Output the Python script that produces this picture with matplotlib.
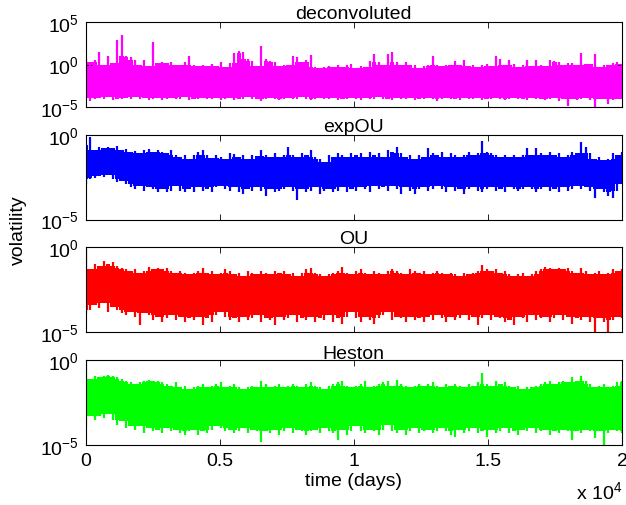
import numpy as np
import matplotlib
matplotlib.use("Agg")
import matplotlib.pyplot as plt

plt.rcParams['font.family'] = ['Liberation Sans', 'DejaVu Sans']
plt.rcParams['mathtext.fontset'] = 'custom'
plt.rcParams['mathtext.rm'] = 'Liberation Sans'
plt.rcParams['mathtext.it'] = 'Liberation Sans'
plt.rcParams['font.size'] = 14

# time span of the simulated series (days)
t_end = 20000

# log10 of the upper / lower envelope of each volatility path, 120 samples across time
decon_hi = [0.7, 0.3, 0.5, 1.5, 0.0, 1.05, 0.2, 2.9, 3.5, 1.0,
            0.9, 0.5, -0.1, 0.5, -0.2, 2.7, 0.2, 0.3, 0.2, 0.3,
            0.0, -0.1, 0.3, 1.05, -0.1, -0.2, -0.1, -0.2, 0.1, -0.2,
            0.3, -0.3, 0.2, 1.4, 1.6, 1.5, 0.7, 0.4, -0.2, 2.2,
            0.7, 0.4, 0.3, -0.2, 0.0, -0.1, 1.05, 0.9, 0.3, 0.5,
            1.1, -0.3, -0.4, -0.3, -0.2, -0.3, -0.1, -0.3, 0.0, 0.1,
            -0.4, -0.2, -0.3, 0.4, 1.2, 0.3, -0.1, 1.3, 1.5, 0.3,
            0.0, 0.3, -0.1, 0.0, -0.4, -0.2, -0.1, 1.05, -0.1, -0.2,
            -0.1, 0.0, 0.4, -0.1, 0.5, -0.2, -0.1, -0.3, 0.0, 0.1,
            -0.2, 1.05, 0.7, -0.1, 0.5, 0.1, -0.3, -0.1, 0.5, -0.2,
            0.5, 0.0, -0.2, 0.5, 0.4, 0.3, -0.1, 0.2, 0.2, -0.1,
            1.4, 0.1, 0.1, 1.2, -0.3, -0.1, 0.0, 0.2, 0.3, 0.1]
decon_lo = [-3.9, -4.3, -4.1, -3.9, -4.0, -3.8, -4.2, -4.0, -4.1, -3.9,
            -4.0, -3.8, -4.1, -3.9, -4.2, -4.0, -3.9, -4.2, -4.1, -3.9,
            -4.0, -4.1, -3.8, -4.2, -4.0, -4.1, -3.9, -4.0, -4.1, -3.9,
            -4.2, -4.0, -3.9, -4.2, -4.1, -4.0, -3.8, -4.1, -4.0, -4.3,
            -4.1, -3.9, -4.0, -4.2, -4.0, -3.9, -4.1, -4.0, -3.8, -4.0,
            -4.2, -4.1, -3.9, -4.0, -4.1, -3.9, -4.2, -4.0, -4.1, -3.9,
            -4.0, -4.2, -3.9, -4.1, -4.0, -3.8, -4.1, -4.0, -4.2, -3.9,
            -4.1, -4.0, -3.9, -4.2, -4.0, -4.1, -3.9, -4.0, -4.3, -4.0,
            -3.9, -4.1, -4.0, -4.2, -3.9, -4.0, -4.1, -3.9, -4.2, -4.0,
            -4.1, -3.9, -4.0, -4.2, -4.1, -3.9, -4.0, -4.1, -4.2, -3.9,
            -4.0, -4.1, -4.2, -4.0, -3.9, -4.3, -4.1, -4.9, -4.0, -4.2,
            -4.1, -3.9, -4.2, -5.0, -4.1, -4.0, -4.6, -4.2, -4.0, -4.1]

expou_hi = [-0.6, -0.15, -0.9, -0.7, -0.75, -0.7, -0.8, -0.65, -0.9, -0.85,
            -1.0, -0.95, -1.1, -0.9, -0.85, -1.0, -0.9, -1.0, -1.1, -0.9,
            -1.2, -1.3, -1.2, -1.4, -1.2, -1.0, -0.9, -1.2, -1.35, -1.2,
            -1.3, -1.4, -1.1, -1.15, -1.3, -1.2, -1.4, -1.2, -1.25, -0.9,
            -1.2, -1.3, -1.1, -1.3, -1.2, -0.72, -1.2, -1.3, -1.1, -1.2,
            -0.9, -1.3, -1.4, -1.6, -1.2, -1.3, -1.1, -1.2, -1.3, -1.1,
            -1.2, -1.1, -1.3, -1.0, -1.2, -1.1, -1.3, -0.9, -1.0, -0.72,
            -1.1, -1.3, -1.2, -1.4, -1.2, -1.3, -0.8, -1.1, -1.2, -1.0,
            -1.3, -1.1, -1.2, -1.3, -1.2, -1.0, -1.2, -1.1, -0.36, -1.0,
            -1.1, -1.2, -1.3, -1.2, -1.3, -1.2, -1.3, -1.2, -0.8, -1.2,
            -0.75, -1.1, -1.2, -1.0, -1.2, -1.1, -1.3, -1.2, -1.0, -1.1,
            -0.42, -0.7, -1.1, -1.4, -1.3, -1.5, -1.4, -1.1, -1.2, -1.0]
expou_lo = [-2.9, -2.6, -2.55, -2.45, -2.5, -2.4, -2.6, -2.8, -2.7, -2.9,
            -3.1, -3.2, -3.0, -3.3, -3.1, -3.2, -3.4, -3.2, -3.4, -3.3,
            -3.0, -3.3, -3.4, -3.2, -3.4, -3.1, -3.3, -3.2, -3.4, -3.1,
            -3.0, -3.2, -3.3, -3.1, -3.4, -3.5, -3.2, -3.3, -3.1, -3.3,
            -3.6, -3.2, -3.4, -3.3, -3.2, -3.1, -3.3, -3.85, -3.2, -3.4,
            -3.3, -3.1, -3.5, -3.3, -3.2, -3.4, -3.3, -3.1, -3.4, -3.2,
            -3.3, -3.1, -3.2, -3.4, -3.0, -3.2, -3.1, -3.3, -3.0, -3.2,
            -3.5, -3.1, -3.3, -3.5, -3.2, -3.1, -3.3, -3.2, -3.0, -3.2,
            -3.4, -3.1, -3.3, -3.2, -3.5, -3.2, -3.1, -3.3, -3.4, -3.2,
            -3.1, -3.3, -3.2, -3.4, -3.1, -3.2, -3.3, -3.2, -3.1, -3.2,
            -3.4, -3.2, -3.1, -3.3, -3.2, -3.4, -3.1, -3.3, -3.2, -3.0,
            -3.2, -3.1, -3.3, -3.75, -3.2, -3.4, -3.6, -3.75, -3.3, -2.9]

ou_hi = [-0.1, -1.3, -1.0, -1.1, -0.8, -1.0, -0.85, -1.1, -1.2, -1.3,
         -1.4, -1.3, -1.5, -1.4, -1.15, -1.3, -1.2, -1.3, -1.2, -1.4,
         -1.5, -1.4, -1.5, -1.6, -1.5, -1.4, -1.2, -1.5, -1.4, -1.6,
         -1.5, -1.3, -1.4, -1.6, -1.5, -1.7, -1.4, -1.5, -1.6, -1.4,
         -1.5, -1.6, -1.4, -1.5, -1.4, -1.6, -1.5, -1.7, -1.5, -1.3,
         -1.2, -1.5, -1.6, -1.7, -1.6, -1.5, -1.4, -1.15, -1.5, -1.6,
         -1.4, -1.3, -1.5, -1.6, -1.4, -1.5, -1.6, -1.4, -1.3, -1.4,
         -1.5, -1.6, -1.3, -1.4, -1.5, -1.4, -1.6, -1.5, -1.4, -1.5,
         -1.6, -1.5, -1.6, -1.7, -1.5, -1.6, -1.5, -1.4, -1.05, -1.3,
         -1.4, -1.3, -1.5, -1.4, -1.6, -1.7, -1.6, -1.5, -1.7, -1.6,
         -1.4, -1.3, -1.15, -1.2, -1.3, -1.2, -1.3, -1.2, -1.4, -1.5,
         -1.2, -1.4, -1.6, -1.5, -1.4, -1.6, -1.5, -1.3, -1.4, -1.3]
ou_lo = [-3.9, -3.7, -3.4, -3.6, -3.3, -3.8, -3.5, -3.7, -3.9, -4.0,
         -3.8, -4.1, -4.6, -3.9, -4.0, -4.3, -4.1, -4.4, -4.2, -4.0,
         -4.3, -4.1, -4.4, -4.2, -4.3, -4.1, -4.6, -4.2, -4.4, -4.0,
         -3.8, -4.1, -4.3, -4.2, -4.4, -4.1, -4.3, -4.2, -4.0, -4.4,
         -4.2, -4.3, -4.6, -4.1, -4.3, -4.2, -4.0, -4.4, -4.2, -4.3,
         -4.1, -4.4, -4.2, -4.3, -4.0, -4.4, -4.2, -4.5, -4.1, -3.8,
         -4.2, -4.4, -4.1, -4.3, -4.5, -4.2, -4.0, -3.8, -4.3, -4.1,
         -4.2, -4.4, -4.1, -4.3, -4.2, -4.4, -4.1, -4.3, -4.0, -4.2,
         -4.4, -4.1, -4.3, -4.2, -4.0, -4.3, -4.1, -4.6, -4.2, -4.0,
         -4.3, -4.1, -4.2, -4.4, -4.3, -4.6, -4.1, -4.2, -4.4, -4.0,
         -4.3, -4.2, -4.1, -4.4, -4.2, -4.0, -4.3, -4.1, -4.5, -4.2,
         -4.3, -4.1, -4.4, -5.0, -4.2, -4.4, -5.0, -4.3, -4.1, -4.2]

heston_hi = [-0.05, -1.1, -0.9, -1.0, -0.9, -0.85, -0.95, -1.0, -1.1, -1.2,
             -1.3, -1.4, -1.3, -1.2, -1.15, -1.2, -1.25, -1.3, -1.4, -1.5,
             -1.3, -1.6, -1.5, -1.7, -1.6, -1.5, -1.4, -1.6, -1.5, -1.4,
             -1.3, -1.6, -1.5, -1.4, -1.6, -1.7, -1.6, -1.5, -1.6, -1.25,
             -1.4, -1.6, -1.5, -1.4, -1.6, -1.5, -1.4, -1.5, -1.6, -1.4,
             -1.3, -1.5, -1.6, -1.7, -1.5, -1.4, -1.3, -1.2, -1.5, -1.6,
             -1.5, -1.4, -1.2, -1.6, -1.5, -1.4, -1.3, -1.2, -1.5, -1.15,
             -1.4, -1.5, -1.6, -1.5, -1.4, -1.5, -1.4, -1.3, -1.5, -1.6,
             -1.4, -1.5, -1.4, -1.5, -1.6, -1.4, -1.5, -1.3, -0.76, -1.4,
             -1.5, -1.2, -1.4, -1.3, -1.5, -1.6, -1.5, -1.7, -1.6, -1.6,
             -1.5, -1.4, -1.3, -1.2, -1.4, -1.3, -1.2, -1.3, -1.0, -1.2,
             -0.95, -1.2, -1.4, -1.6, -1.5, -1.4, -1.6, -1.5, -1.3, -1.2]
heston_lo = [-3.9, -3.3, -3.5, -3.3, -3.4, -3.2, -3.5, -3.8, -3.6, -4.0,
             -3.9, -4.1, -3.9, -4.3, -4.0, -4.2, -4.1, -4.3, -4.0, -4.2,
             -4.1, -4.3, -4.4, -4.2, -4.1, -4.4, -4.2, -4.3, -4.1, -3.9,
             -4.0, -4.2, -4.1, -4.3, -4.2, -4.0, -4.3, -4.1, -4.2, -4.8,
             -4.2, -4.3, -4.1, -4.4, -4.2, -4.0, -4.3, -4.1, -4.2, -4.4,
             -4.2, -4.1, -4.3, -4.0, -4.2, -4.3, -4.7, -4.1, -4.4, -4.2,
             -3.9, -4.2, -4.3, -4.1, -4.2, -4.4, -4.1, -3.8, -4.2, -4.3,
             -4.1, -4.4, -4.2, -4.0, -4.3, -4.2, -4.1, -4.3, -4.2, -4.0,
             -4.2, -4.4, -4.5, -4.1, -4.3, -4.2, -4.0, -4.3, -4.2, -4.5,
             -4.1, -4.3, -4.2, -4.0, -4.3, -4.2, -4.4, -4.1, -4.2, -4.0,
             -4.3, -4.2, -4.1, -4.4, -4.2, -4.3, -4.1, -4.2, -4.7, -4.2,
             -4.3, -4.1, -4.2, -4.6, -4.2, -5.0, -4.3, -4.1, -4.2, -4.3]

titles = ['deconvoluted', 'expOU', 'OU', 'Heston']
colors = ['#ff00ff', '#0000ff', '#ff0000', '#00ff00']
series = [(decon_hi, decon_lo), (expou_hi, expou_lo),
          (ou_hi, ou_lo), (heston_hi, heston_lo)]
ylims = [(1e-5, 1e5), (1e-5, 1e0), (1e-5, 1e0), (1e-5, 1e0)]
yticks = [[1e-5, 1e0, 1e5], [1e-5, 1e0], [1e-5, 1e0], [1e-5, 1e0]]
ytick_labels = [[r'$10^{-5}$', r'$10^{0}$', r'$10^{5}$'],
                [r'$10^{-5}$', r'$10^{0}$'], [r'$10^{-5}$', r'$10^{0}$'],
                [r'$10^{-5}$', r'$10^{0}$']]
xticks = [0, 5000, 10000, 15000, 20000]
xtick_labels = ['0', '0.5', '1', '1.5', '2']

fig = plt.figure(figsize=(6.26, 5.06), dpi=100)
bottoms = [0.7866, 0.5642, 0.3419, 0.1186]
left, width, height = 0.1366, 0.857, 0.1674

for k in range(4):
    ax = fig.add_axes([left, bottoms[k], width, height])
    hi = np.array(series[k][0])
    lo = np.array(series[k][1])
    t = np.linspace(0, t_end, len(hi))
    # solid core of the band: neighbouring samples bound it, so lone spikes stay thin
    core_hi = np.minimum(hi, np.minimum(np.r_[hi[0], hi[:-1]], np.r_[hi[1:], hi[-1]]))
    core_lo = np.maximum(lo, np.maximum(np.r_[lo[0], lo[:-1]], np.r_[lo[1:], lo[-1]]))
    ax.fill_between(t, 10.0 ** core_lo, 10.0 ** core_hi, step='mid',
                    color=colors[k], lw=0)
    ax.vlines(t, 10.0 ** lo, 10.0 ** hi, color=colors[k], lw=1.6)
    ax.set_yscale('log')
    ax.set_xlim(0, t_end)
    ax.set_ylim(*ylims[k])
    ax.set_yticks(yticks[k])
    ax.set_yticklabels(ytick_labels[k])
    ax.minorticks_off()
    ax.set_xticks(xticks)
    if k == 3:
        ax.set_xticklabels(xtick_labels)
        ax.set_xlabel('time (days)', labelpad=2)
        ax.text(1.0, -0.55, r'x $10^{4}$', transform=ax.transAxes,
                ha='right', va='center')
    else:
        ax.set_xticklabels([])
    ax.tick_params(direction='in', top=True, right=True, length=4,
                   width=0.6, pad=5)
    for s in ax.spines.values():
        s.set_linewidth(0.8)
    ax.set_title(titles[k], pad=2, fontsize=14)

fig.text(0.03, 0.545, 'volatility', rotation=90, ha='center', va='center')

fig.savefig('out.png', dpi=100)
